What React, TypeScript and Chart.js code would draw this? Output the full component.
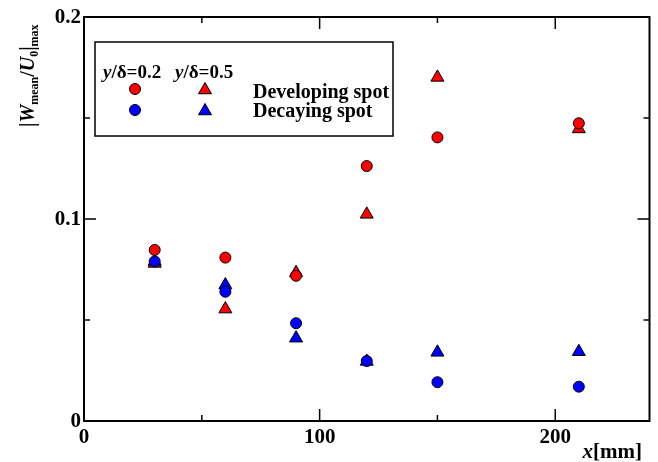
import React, { useEffect, useRef } from 'react';
import { Chart, registerables } from 'chart.js';

Chart.register(...registerables);

// ---- data ----
const xPositions = [30, 60, 90, 120, 150, 210];
const developing02 = [0.0847, 0.0809, 0.0719, 0.1262, 0.1404, 0.1474];
const decaying02 = [0.079, 0.064, 0.0484, 0.0297, 0.0192, 0.017];
const developing05 = [0.078, 0.0554, 0.0734, 0.1023, 0.1701, 0.1446];
const decaying05 = [0.079, 0.0673, 0.041, 0.0295, 0.034, 0.0343];

const xMajorTicks = [0, 100, 200];
const xMajorLabels = ['0', '100', '200'];
const xMinorTicks = [50, 150];
const yMajorTicks = [0, 0.1, 0.2];
const yMajorLabels = ['0', '0.1', '0.2'];
const yMinorTicks = [0.05, 0.15];

const RED = '#ff0000';
const BLUE = '#0000ff';
const SERIF = '"Liberation Serif", "Times New Roman", serif';

const pts = (ys: number[]) => xPositions.map((x, i) => ({ x, y: ys[i] }));

type Seg = { t: string; f: string; dy?: number };

function drawSegs(ctx: CanvasRenderingContext2D, segs: Seg[], x: number, y: number) {
  let cx = x;
  for (const s of segs) {
    ctx.font = s.f;
    ctx.fillText(s.t, cx, y + (s.dy || 0));
    cx += ctx.measureText(s.t).width;
  }
  return cx;
}

function segsWidth(ctx: CanvasRenderingContext2D, segs: Seg[]) {
  let w = 0;
  for (const s of segs) {
    ctx.font = s.f;
    w += ctx.measureText(s.t).width;
  }
  return w;
}

function drawCircle(ctx: CanvasRenderingContext2D, x: number, y: number, r: number, color: string) {
  ctx.beginPath();
  ctx.arc(x, y, r, 0, Math.PI * 2);
  ctx.fillStyle = color;
  ctx.fill();
  ctx.lineWidth = 1;
  ctx.strokeStyle = '#000';
  ctx.stroke();
}

function drawTriangle(ctx: CanvasRenderingContext2D, x: number, y: number, r: number, color: string) {
  ctx.beginPath();
  let rad = 0;
  ctx.moveTo(x + Math.sin(rad) * r, y - Math.cos(rad) * r);
  rad += (2 * Math.PI) / 3;
  ctx.lineTo(x + Math.sin(rad) * r, y - Math.cos(rad) * r);
  rad += (2 * Math.PI) / 3;
  ctx.lineTo(x + Math.sin(rad) * r, y - Math.cos(rad) * r);
  ctx.closePath();
  ctx.fillStyle = color;
  ctx.fill();
  ctx.lineWidth = 1;
  ctx.strokeStyle = '#000';
  ctx.stroke();
}

const decorPlugin = {
  id: 'decor',
  afterDraw(chart: any) {
    const ctx: CanvasRenderingContext2D = chart.ctx;
    const xs = chart.scales.x;
    const ys = chart.scales.y;
    const { left, right, top, bottom } = chart.chartArea;
    ctx.save();

    // frame
    ctx.strokeStyle = '#000';
    ctx.lineWidth = 2;
    ctx.strokeRect(left, top, right - left, bottom - top);

    // ticks (inward, all four sides)
    ctx.lineWidth = 1.5;
    const major = 12;
    const minor = 6;
    const vTick = (v: number, len: number) => {
      const px = xs.getPixelForValue(v);
      ctx.beginPath();
      ctx.moveTo(px, bottom);
      ctx.lineTo(px, bottom - len);
      ctx.moveTo(px, top);
      ctx.lineTo(px, top + len);
      ctx.stroke();
    };
    const hTick = (v: number, len: number) => {
      const py = ys.getPixelForValue(v);
      ctx.beginPath();
      ctx.moveTo(left, py);
      ctx.lineTo(left + len, py);
      ctx.moveTo(right, py);
      ctx.lineTo(right - len, py);
      ctx.stroke();
    };
    xMajorTicks.forEach((v) => vTick(v, major));
    xMinorTicks.forEach((v) => vTick(v, minor));
    yMajorTicks.forEach((v) => hTick(v, major));
    yMinorTicks.forEach((v) => hTick(v, minor));

    // tick labels
    ctx.fillStyle = '#000';
    ctx.font = `bold 21px ${SERIF}`;
    ctx.textAlign = 'center';
    ctx.textBaseline = 'alphabetic';
    xMajorTicks.forEach((v, i) => {
      ctx.fillText(xMajorLabels[i], xs.getPixelForValue(v), 443);
    });
    ctx.textAlign = 'right';
    ctx.textBaseline = 'middle';
    yMajorTicks.forEach((v, i) => {
      ctx.fillText(yMajorLabels[i], left - 3, ys.getPixelForValue(v) + 1);
    });

    // x axis title
    ctx.textAlign = 'left';
    ctx.textBaseline = 'alphabetic';
    const xTitle: Seg[] = [
      { t: 'x', f: `italic bold 21px ${SERIF}` },
      { t: '[mm]', f: `bold 21px ${SERIF}` },
    ];
    const xw = segsWidth(ctx, xTitle);
    drawSegs(ctx, xTitle, 642 - xw, 458);

    // y axis title (rotated)
    const main = `bold 20px ${SERIF}`;
    const ital = `italic bold 20px ${SERIF}`;
    const sub = `bold 12px ${SERIF}`;
    const yTitle: Seg[] = [
      { t: '|', f: main },
      { t: 'W', f: ital },
      { t: 'mean', f: sub, dy: 4 },
      { t: '/', f: main },
      { t: 'U', f: ital },
      { t: '0', f: sub, dy: 4 },
      { t: '|', f: main },
      { t: 'max', f: sub, dy: 4 },
    ];
    ctx.save();
    ctx.translate(34, 127);
    ctx.rotate(-Math.PI / 2);
    drawSegs(ctx, yTitle, 0, 0);
    ctx.restore();

    // legend box
    ctx.lineWidth = 1.5;
    ctx.strokeStyle = '#000';
    ctx.strokeRect(95, 42, 298, 94);

    const lf = `bold 19px ${SERIF}`;
    const lfi = `italic bold 19px ${SERIF}`;
    drawSegs(ctx, [{ t: 'y', f: lfi }, { t: '/δ=0.2', f: lf }], 103, 78);
    drawSegs(ctx, [{ t: 'y', f: lfi }, { t: '/δ=0.5', f: lf }], 175, 78);

    drawCircle(ctx, 135, 89, 5.5, RED);
    drawTriangle(ctx, 205, 90, 7.5, RED);
    drawCircle(ctx, 135, 110, 5.5, BLUE);
    drawTriangle(ctx, 205, 111, 7.5, BLUE);

    ctx.fillStyle = '#000';
    ctx.font = `bold 20px ${SERIF}`;
    ctx.fillText('Developing spot', 253, 98);
    ctx.fillText('Decaying spot', 253, 117);

    ctx.restore();
  },
};

export default function App() {
  const ref = useRef<HTMLCanvasElement | null>(null);

  useEffect(() => {
    if (!ref.current) return;
    const circle = (color: string) => ({
      pointStyle: 'circle',
      pointRadius: 5.5,
      pointHoverRadius: 5.5,
      backgroundColor: color,
      borderColor: '#000',
      borderWidth: 1,
      showLine: false,
    });
    const tri = (color: string) => ({
      pointStyle: 'triangle',
      pointRadius: 7.5,
      pointHoverRadius: 7.5,
      backgroundColor: color,
      borderColor: '#000',
      borderWidth: 1,
      showLine: false,
    });
    const chart = new Chart(ref.current, {
      type: 'scatter',
      data: {
        datasets: [
          { label: 'Decaying spot y/δ=0.2', data: pts(decaying02), ...circle(BLUE) },
          { label: 'Developing spot y/δ=0.2', data: pts(developing02), ...circle(RED) },
          { label: 'Decaying spot y/δ=0.5', data: pts(decaying05), ...tri(BLUE) },
          { label: 'Developing spot y/δ=0.5', data: pts(developing05), ...tri(RED) },
        ] as any,
      },
      options: {
        animation: false,
        responsive: false,
        devicePixelRatio: 1,
        clip: false as any,
        layout: { padding: { left: 84, top: 17, right: 7, bottom: 41 } },
        plugins: { legend: { display: false }, tooltip: { enabled: false } },
        events: [],
        scales: {
          x: { type: 'linear', min: 0, max: 240, display: false },
          y: { type: 'linear', min: 0, max: 0.2, display: false },
        },
      },
      plugins: [decorPlugin],
    });
    return () => chart.destroy();
  }, []);

  return (
    <div style={{ position: 'absolute', left: 0, top: 0, width: 658, height: 462, background: '#fff' }}>
      <canvas ref={ref} width={658} height={462} style={{ width: 658, height: 462, display: 'block' }} />
    </div>
  );
}
